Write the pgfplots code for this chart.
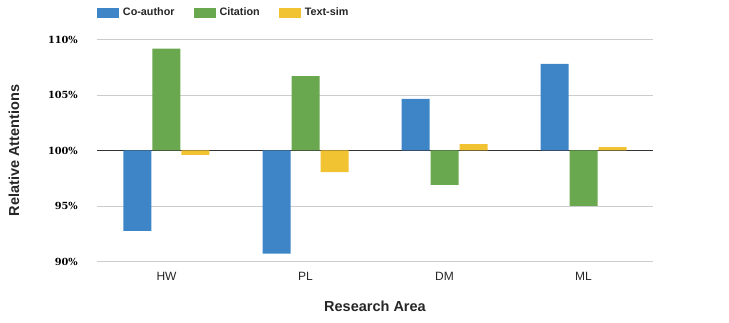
\documentclass[border=0pt]{standalone}
\usepackage{fontspec}
\setmainfont{Liberation Sans}
\newfontfamily\tickserif{DejaVu Serif}
\usepackage{pgfplots}
\usepackage{pgfplotstable}
\pgfplotsset{compat=1.18}

\definecolor{cblue}{HTML}{3D85C6}
\definecolor{cgreen}{HTML}{6AA84F}
\definecolor{cyellow}{HTML}{F1C232}

\pgfplotsset{sqlegend/.style={legend image code/.code={\fill[##1] (0pt,-5pt) rectangle (22pt,5pt);}}}

% relative attention in percent, bars hang from 100%
\pgfplotstableread{
x area coauthor citation textsim
0 HW 92.75 109.17 99.6
1 PL 90.7 106.7 98.05
2 DM 104.65 96.9 100.57
3 ML 107.8 95.0 100.3
}\attn

\begin{document}
\begin{tikzpicture}
\begin{axis}[
  at={(97pt,61.5pt)}, anchor=south west,
  scale only axis, width=556pt, height=222pt,
  ybar=1pt, bar width=28pt,
  xmin=-0.5, xmax=3.5, ymin=-10, ymax=10,
  axis line style={draw=none},
  xtick={0,1,2,3}, xticklabels={HW,PL,DM,ML},
  ytick={-10,-5,5,10}, yticklabels={90\%,95\%,105\%,110\%},
  extra y ticks={0}, extra y tick labels={100\%},
  extra y tick style={grid style={color=black!80, line width=1.1pt}},
  ymajorgrids, grid style={color=black!20, line width=0.9pt},
  major tick length=0pt,
  yticklabel style={anchor=east, inner sep=0pt, xshift=-19pt,
    font=\tickserif\bfseries\fontsize{9.8}{11}\selectfont},
  xticklabel style={anchor=north, inner sep=0pt, yshift=-11pt,
    font=\fontsize{12}{13}\selectfont, text=black!85},
  xlabel={Research Area}, ylabel={Relative Attentions},
  xlabel style={at={(axis description cs:0.5,-0.2005)}, anchor=center,
    font=\bfseries\fontsize{14.5}{16}\selectfont, text=black!85},
  ylabel style={at={(axis description cs:-0.1493,0.5)}, anchor=center,
    font=\bfseries\fontsize{14.5}{16}\selectfont, text=black!85},
  legend columns=3,
  legend style={at={(axis description cs:0,1.1216)}, anchor=west,
    draw=none, inner sep=0pt, outer sep=0pt,
    nodes={inner sep=0pt},
    font=\bfseries\fontsize{10.8}{12}\selectfont, text=black!85,
    /tikz/every odd column/.append style={column sep=4pt},
    /tikz/every even column/.append style={column sep=19pt}},
]
\addplot[fill=cblue, draw=none, sqlegend]
  table[x=x, y expr=\thisrow{coauthor}-100] {\attn};
\addplot[fill=cgreen, draw=none, sqlegend]
  table[x=x, y expr=\thisrow{citation}-100] {\attn};
\addplot[fill=cyellow, draw=none, sqlegend]
  table[x=x, y expr=\thisrow{textsim}-100] {\attn};
\legend{Co-author, Citation, Text-sim}
\end{axis}
\pgfresetboundingbox
\path[use as bounding box] (0,0) rectangle (729pt,323pt);
\end{tikzpicture}
\end{document}
